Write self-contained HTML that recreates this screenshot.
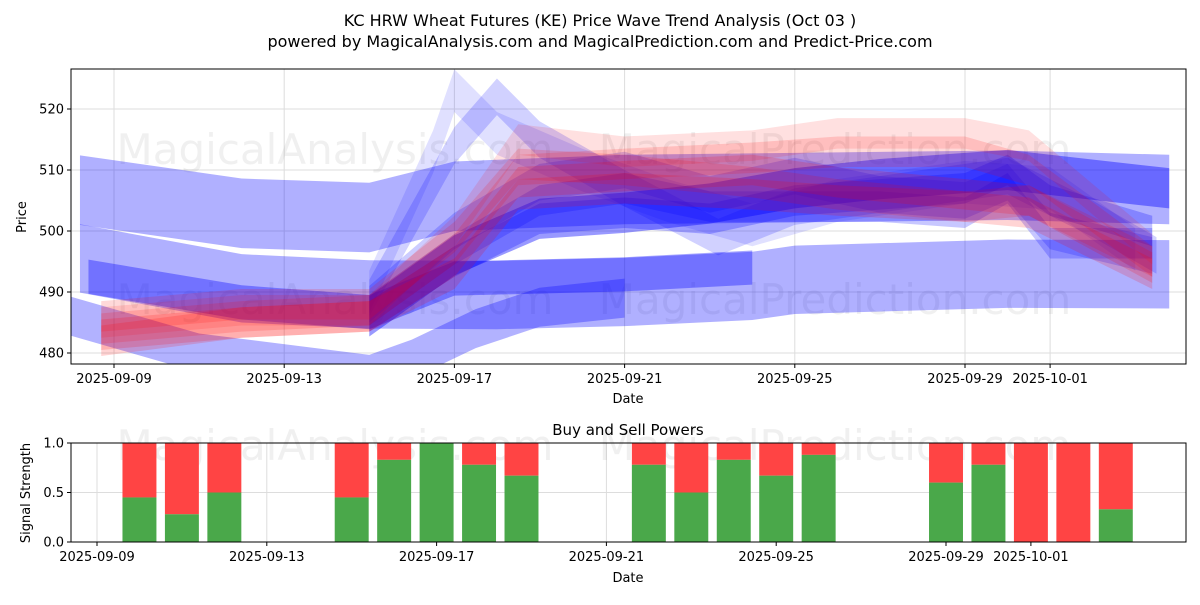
<!DOCTYPE html>
<html><head><meta charset="utf-8"><style>
body{margin:0;background:#fff;}
svg text{font-family:"DejaVu Sans","Liberation Sans",sans-serif;fill:#000;}
</style></head><body>
<svg id="chart" width="1200" height="600" xmlns="http://www.w3.org/2000/svg">
<rect width="1200" height="600" fill="#fff"/>
<text x="600" y="26" font-size="16" text-anchor="middle">KC HRW Wheat Futures (KE) Price Wave Trend Analysis (Oct 03 )</text>
<text x="600" y="47" font-size="16" text-anchor="middle">powered by MagicalAnalysis.com and MagicalPrediction.com and Predict-Price.com</text>
<g id="topPanel"></g>
<g id="botPanel"></g>
</svg>
<script>
// ---- price wave data (day offset from 2025-09-09) ----
const bandDaysA=[-0.8,3,6,8,12,21,24.8];
const bandA=[506.7,502.9,502.2,505.7,506.8,507.5,506.8];
const bandDaysB=[-0.8,3,6,9,12,15,16,21,24.8];
const bandB=[495.5,490.6,489.6,489.5,490,491,492,493,492.9];
const bandDaysC=[-0.6,3,6,8,12,15];
const bandC=[492.5,488.3,486.7,492.2,492.9,494];
const bandDaysE=[-1,2,6,7,8.5,10,12];
const bandE=[486,480,476.5,479,484,487.5,489];
const bandDaysD=[6,8,10,12,14,16,18,20,21,24.8];
const bandD=[486,496,502,503,504.5,507,508.5,509.5,510,507];
const spikeDays1=[6,7.5,8,9,11,13,15,17,20,22,24];
const spike1=[490,513,523,516,510,505,501,505,508,507,497];
const spikeDays2=[6,8,9,10,12,14.2,16,18,21,23,24.5];
const spike2=[489,514,522,515,507,499,504,506,509,502,496];
const midDays=[6,8,10,12,14,16,18,20,21,22,24.4];
const mid1=[488,500,508,510,506,509,506,505,508,500,496];
const mid2=[487,497,505,507,504,504,504,503,507,498,498];
const mid3=[486,495,502,503,502,505,506,507,510,505,500];
const redDays=[-0.3,3,6,8,9.5,12,15,17,20,21.5,24.4];
const red1=[485,487,487,500,515,513,514,516,516,514,497];
const red2=[484,486,487,497,510,511,512,513,513,510,495];
const red3=[483,485,486,495,508,509,510,508,506,505,494];
const red4=[482,485,486,493,506,507,506,505,504,503,493];
const red5=[486,488,488,499,511,510,508,506,504,505,495];
const yTicks=[480,490,500,510,520];
const xTickDays=[0,4,8,12,16,20,22];
const xTickLabels=["2025-09-09","2025-09-13","2025-09-17","2025-09-21","2025-09-25","2025-09-29","2025-10-01"];
// ---- signal data ----
const sigDays=[1,2,3,6,7,8,9,10,13,14,15,16,17,20,21,22,23,24];
const buyPower=[0.45,0.28,0.5,0.45,0.83,1.0,0.78,0.67,0.78,0.5,0.83,0.67,0.88,0.6,0.78,0,0,0.33];
const sigTicks=[0,0.5,1.0];
const sigTickLabels=["0.0","0.5","1.0"];

const NS="http://www.w3.org/2000/svg";
function mk(tag,attrs,parent,text){const e=document.createElementNS(NS,tag);for(const k in attrs)e.setAttribute(k,attrs[k]);if(text!==undefined)e.textContent=text;parent.appendChild(e);return e;}
const topG=document.getElementById('topPanel'),botG=document.getElementById('botPanel');
const L=71,R=1186,T=69,B=364;
const xs=d=>114+d*42.55;
const ys=p=>353-(p-480)*6.1;
const bL=71,bR=1186,bT=443,bB=542;
const bx=d=>97+d*42.45;
const by=v=>bB-v*(bB-bT);

const defs=mk('defs',{},topG);
const cp=mk('clipPath',{id:'clipT'},defs);
mk('rect',{x:71,y:69,width:1115,height:295},cp);
yTicks.forEach(v=>{const g=mk('line',{x1:L,x2:R,y1:ys(v),y2:ys(v),stroke:'#ddd','stroke-width':1},topG);

});
xTickDays.forEach(d=>{const g=mk('line',{x1:xs(d),x2:xs(d),y1:T,y2:B,stroke:'#ddd','stroke-width':1},topG);

});
[[335,150,'MagicalAnalysis.com'],[835,150,'MagicalPrediction.com'],[335,300,'MagicalAnalysis.com'],[835,300,'MagicalPrediction.com']].forEach(w=>{
const t=mk('text',{x:w[0],y:w[1]+14,'font-size':42,'text-anchor':'middle',style:'fill:#888;fill-opacity:0.13'},topG,w[2]);

});
const bands=mk('g',{'clip-path':'url(#clipT)'},topG);
function band(days,vals,hw,color,op,name){
 let up=days.map((d,i)=>xs(d)+','+ys(vals[i]+hw));
 let dn=days.map((d,i)=>xs(d)+','+ys(vals[i]-hw)).reverse();
 const p=mk('polygon',{points:up.concat(dn).join(' '),fill:color,'fill-opacity':op},bands);
 
 
}
band(bandDaysA,bandA,5.7,'#0000ff',0.31,'wave-band-upper');
band(bandDaysB,bandB,5.6,'#0000ff',0.31,'wave-band-lower');
band(bandDaysE,bandE,3.2,'#0000ff',0.3,'wave-band-dip');
band(bandDaysC,bandC,2.8,'#0000ff',0.35,'wave-band-mid');
band(bandDaysD,bandD,3.3,'#0000ff',0.4,'wave-band-dark');
band(spikeDays1,spike1,3.5,'#0000ff',0.12,'wave-spike-1');
band(spikeDays2,spike2,3,'#0000ff',0.18,'wave-spike-2');
band(midDays,mid1,3,'#0000ff',0.2,'wave-mid-1');
band(midDays,mid2,2.5,'#0000ff',0.22,'wave-mid-2');
band(midDays,mid3,2.5,'#0000ff',0.25,'wave-mid-3');
band(redDays,red1,2.5,'#ff0000',0.12,'red-wave-1');
band(redDays,red2,2.5,'#ff0000',0.15,'red-wave-2');
band(redDays,red3,2.5,'#ff0000',0.17,'red-wave-3');
band(redDays,red4,2.5,'#ff0000',0.17,'red-wave-4');
band(redDays,red5,2.5,'#ff0000',0.15,'red-wave-5');
const f=mk('rect',{x:L,y:T,width:R-L,height:B-T,fill:'none',stroke:'#000','stroke-width':1},topG);


yTicks.forEach(v=>{mk('line',{x1:L-4,x2:L,y1:ys(v),y2:ys(v),stroke:'#000'},topG);
const t=mk('text',{x:L-7,y:ys(v)+4.5,'font-size':13,'text-anchor':'end'},topG,String(v));

});
xTickDays.forEach((d,i)=>{mk('line',{x1:xs(d),x2:xs(d),y1:B,y2:B+4,stroke:'#000'},topG);
const t=mk('text',{x:xs(d),y:B+19,'font-size':13,'text-anchor':'middle'},topG,xTickLabels[i]);

});
let t1=mk('text',{x:628,y:403,'font-size':13,'text-anchor':'middle'},topG,'Date');


let t2=mk('text',{x:0,y:0,'font-size':13,'text-anchor':'middle',transform:'translate(26,217) rotate(-90)'},topG,'Price');



sigTicks.forEach(v=>{const g=mk('line',{x1:bL,x2:bR,y1:by(v),y2:by(v),stroke:'#ddd'},botG);

});
xTickDays.forEach(d=>{const g=mk('line',{x1:bx(d),x2:bx(d),y1:bT,y2:bB,stroke:'#ddd'},botG);

});
[[335,'MagicalAnalysis.com'],[835,'MagicalPrediction.com']].forEach(w=>{
const t=mk('text',{x:w[0],y:460,'font-size':42,'text-anchor':'middle',style:'fill:#888;fill-opacity:0.13'},botG,w[1]);

});
const bw=0.8*42.45;
sigDays.forEach((d,i)=>{const v=buyPower[i];
const r=mk('rect',{x:bx(d)-bw/2,y:by(1),width:bw,height:by(v)-by(1),fill:'#ff4444'},botG);


const g=mk('rect',{x:bx(d)-bw/2,y:by(v),width:bw,height:by(0)-by(v),fill:'#4aa84a'},botG);

});
const f2=mk('rect',{x:bL,y:bT,width:bR-bL,height:bB-bT,fill:'none',stroke:'#000'},botG);


sigTicks.forEach((v,i)=>{mk('line',{x1:bL-4,x2:bL,y1:by(v),y2:by(v),stroke:'#000'},botG);
const t=mk('text',{x:bL-7,y:by(v)+4.5,'font-size':13,'text-anchor':'end'},botG,sigTickLabels[i]);

});
xTickDays.forEach((d,i)=>{mk('line',{x1:bx(d),x2:bx(d),y1:bB,y2:bB+4,stroke:'#000'},botG);
const t=mk('text',{x:bx(d),y:bB+19,'font-size':13,'text-anchor':'middle'},botG,xTickLabels[i]);

});
let t3=mk('text',{x:628,y:435,'font-size':15,'text-anchor':'middle'},botG,'Buy and Sell Powers');


let t4=mk('text',{x:628,y:582,'font-size':13,'text-anchor':'middle'},botG,'Date');


let t5=mk('text',{x:0,y:0,'font-size':13,'text-anchor':'middle',transform:'translate(30,493) rotate(-90)'},botG,'Signal Strength');


</script>
</body></html>
